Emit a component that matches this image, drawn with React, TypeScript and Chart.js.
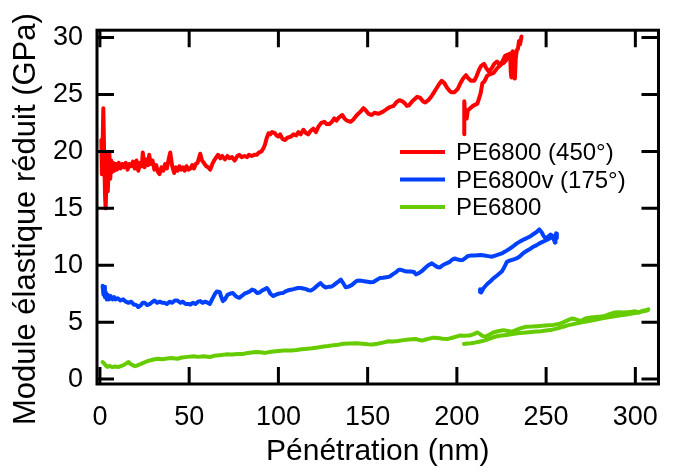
import { useEffect, useRef } from 'react';
import { Chart, registerables } from 'chart.js';

Chart.register(...registerables);

const xTickValues = [0, 50, 100, 150, 200, 250, 300];
const yTickValues = [0, 5, 10, 15, 20, 25, 30];
const xTitle = 'Pénétration (nm)';
const yTitle = 'Module élastique réduit (GPa)';
const seriesNames = ['PE6800 (450°)', 'PE6800v (175°)', 'PE6800'];
const seriesColors = ['#ff0000', '#0040ff', '#66cc00'];

const redMain: [number, number][] = [
  [0.8, 21.0], [1.1, 18.0], [1.5, 20.5], [1.9, 23.8], [2.4, 19.5], [2.9, 16.0], [3.2, 15.0], [3.6, 17.0],
  [4.0, 19.8], [4.4, 16.5], [4.9, 18.5], [5.3, 19.8], [5.8, 17.6], [6.3, 19.2], [6.8, 18.2], [7.4, 19.0],
  [8.0, 18.3], [8.8, 18.9], [9.5, 18.4], [10.5, 19.0], [11.5, 18.5], [12.5, 18.9], [13.5, 18.6], [14.5, 19.0],
  [15.5, 18.4], [16.5, 18.9], [17.5, 18.7], [18.5, 19.1], [19.5, 18.5], [20.5, 19.2], [21.5, 18.3], [22.5, 19.0],
  [23.5, 18.7], [24, 19.9], [25, 18.6], [26, 19.3], [27, 18.8], [27.6, 19.7], [28.5, 18.9], [29.5, 19.2],
  [30.5, 18.4], [31.5, 18.8], [32.5, 18.2], [33.4, 18.0], [34.5, 18.6], [35.5, 18.3], [36.5, 18.9], [37.5, 18.5],
  [38.5, 19.3], [39.4, 19.9], [40.5, 18.7], [41.6, 18.1], [42.5, 18.6], [43.5, 18.3], [44.5, 18.7], [45.5, 18.4],
  [46.5, 18.6], [47.5, 18.3], [48.5, 18.7], [49.5, 18.4], [50.7, 18.5], [51.7, 18.8], [52.7, 18.5], [53.7, 18.9],
  [54.7, 19.0], [56.2, 19.8], [57.2, 19.2], [58.2, 19.0], [59.5, 18.7], [60.7, 18.6], [61.8, 18.4], [63, 18.9],
  [64, 19.2], [65.2, 19.5], [66.2, 19.7], [67.5, 19.4], [68.5, 19.6], [70, 19.3], [71.5, 19.6], [72.6, 19.4],
  [74, 19.5], [75.5, 19.2], [77, 19.6], [78, 19.7], [79.5, 19.5], [81, 19.6], [82.5, 19.5], [83.5, 19.7],
  [85, 19.6], [86.5, 19.7], [88, 19.7], [89, 19.9], [90.5, 20.0], [91.7, 20.3], [92.5, 20.6], [93.5, 21.2],
  [94.5, 21.6], [95.5, 21.5], [96.5, 21.7], [98, 21.6], [99, 21.4], [100, 21.3], [101, 21.5], [102.3, 21.1],
  [103.6, 21.0], [105, 21.2], [107, 21.3], [108.5, 21.5], [110, 21.4], [111.2, 21.7], [112.5, 21.5], [114, 21.9],
  [115.5, 21.6], [116.7, 21.5], [118, 21.8], [119.5, 22.0], [121, 21.7], [122.5, 22.2], [124, 22.5], [125.8, 22.6],
  [127, 22.4], [128.5, 22.4], [130, 22.6], [131.3, 22.9], [132.5, 22.7], [134, 23.0], [135.8, 23.2], [137, 22.9],
  [138.5, 22.7], [140.4, 22.6], [142, 22.8], [144, 23.2], [146, 23.5], [147.7, 23.8], [149, 23.6], [150.5, 23.3],
  [152.3, 23.2], [154, 23.4], [156, 23.3], [158.6, 23.5], [160.5, 23.7], [162.5, 23.9], [164.5, 24.0], [166, 24.3],
  [167.8, 24.5], [169.5, 24.4], [171, 24.2], [172, 24.0], [173.2, 24.05], [175, 24.4], [177.8, 24.8], [179.5, 24.7],
  [181, 24.4], [182.3, 24.3], [184, 24.5], [186, 24.9], [188, 25.4], [190, 25.9], [191.5, 26.2], [193, 26.0],
  [194.5, 25.6], [196, 25.3], [197, 25.2], [198.7, 25.2], [200.5, 25.5], [202, 26.0], [203.5, 26.4], [205.1, 26.7],
  [206.5, 26.4], [208, 26.2], [209.7, 26.2], [211, 26.6], [212.5, 27.2], [213.5, 27.5], [215.2, 27.7], [216.5, 27.3],
  [218, 27.0], [219.5, 27.3], [221, 27.7], [222.5, 27.9], [224, 27.6], [225.5, 27.9], [227, 28.4], [228.5, 28.5],
  [229.8, 28.6], [230.2, 27.0], [230.5, 26.5], [230.8, 28.0], [231.3, 28.8], [232, 27.5], [232.5, 26.4], [233, 28.2],
  [233.6, 28.9], [234.2, 29.0], [234.8, 29.7], [235.4, 29.4], [236.2, 30.1],
];

const redTail: [number, number][] = [
  [204.2, 21.5], [204.0, 22.8], [204.3, 24.4], [204.7, 23.0], [205.5, 22.9], [206.1, 23.6], [207.5, 23.8],
  [209, 24.0], [211.5, 24.2], [213.3, 25.1], [214.3, 26.0], [215.2, 26.1], [217, 26.65], [218.8, 26.8],
  [220.6, 26.9], [222.5, 27.3], [225.2, 27.7], [226.5, 27.8], [228, 28.1], [229.5, 28.3], [230.6, 28.4],
];

const blueMain: [number, number][] = [
  [1.5, 8.2], [2.0, 7.4], [2.4, 8.1], [2.8, 7.2], [3.3, 7.6], [3.8, 7.0], [4.5, 7.4], [5.1, 7.0], [6, 7.3],
  [7, 7.0], [8, 7.2], [8.75, 7.0], [10, 7.1], [11.5, 6.9], [13, 7.0], [14.5, 6.8], [16, 6.7], [17.5, 6.8],
  [19, 6.55], [20.5, 6.5], [21.5, 6.33], [23, 6.5], [24, 6.7], [25.2, 6.7], [26.5, 6.5], [28, 6.6], [29.5, 6.8],
  [30.6, 6.9], [32, 6.7], [33.5, 6.8], [35, 6.7], [36.1, 6.7], [37.5, 6.6], [39, 6.8], [40.5, 6.7], [42, 6.9],
  [43.4, 6.9], [45, 6.7], [46.5, 6.8], [48, 6.6], [49.5, 6.6], [50.7, 6.55], [52, 6.7], [53.5, 6.6], [55, 6.8],
  [56.2, 6.85], [57.5, 6.7], [59, 6.8], [60.5, 6.7], [61.6, 6.6], [62.5, 6.9], [63.5, 7.2], [64.5, 7.5],
  [65.5, 7.7], [67.1, 7.66], [68, 7.2], [68.9, 6.85], [70, 7.0], [71.5, 7.4], [73, 7.5], [74.4, 7.57], [76, 7.3],
  [77, 7.2], [78.1, 7.14], [79.5, 7.3], [81, 7.5], [82.5, 7.6], [84, 7.7], [85.3, 7.86], [86.5, 7.8],
  [88.1, 7.57], [89.5, 7.6], [91, 7.8], [92.5, 7.9], [93.5, 8.0], [94.5, 7.8], [95.5, 7.5], [97.2, 7.29],
  [98.5, 7.4], [100, 7.5], [101.5, 7.55], [102.7, 7.57], [104, 7.7], [105.5, 7.8], [107, 7.85], [108.5, 7.9],
  [110.9, 8.0], [112.5, 8.0], [114, 7.95], [115.5, 7.9], [117, 7.8], [118.2, 7.78], [119.5, 7.9], [121, 8.1],
  [122.5, 8.3], [123.6, 8.44], [125, 8.2], [126.5, 8.05], [128, 8.1], [129.4, 8.1], [131, 8.25], [133, 8.5],
  [135, 8.73], [136, 8.5], [137.7, 8.07], [139, 8.1], [141, 8.25], [142.5, 8.45], [144, 8.64], [146, 8.65],
  [148, 8.6], [150, 8.55], [151.5, 8.5], [153.2, 8.53], [155, 8.7], [156.8, 8.87], [158.5, 8.9], [160.5, 8.95],
  [162.3, 9.0], [164, 9.2], [166, 9.4], [167.5, 9.6], [168.7, 9.6], [170.5, 9.5], [172, 9.45], [174.1, 9.45],
  [176, 9.4], [177, 9.2], [178.7, 9.3], [180.5, 9.5], [182.5, 9.8], [184, 10.0], [186, 10.17], [187.5, 10.0],
  [189, 9.85], [190.5, 9.8], [192, 10.0], [194.2, 10.17], [196, 10.3], [197.5, 10.5], [198.7, 10.6], [200.5, 10.5],
  [202, 10.45], [203.3, 10.47], [204.5, 10.6], [206, 10.8], [208, 10.85], [210, 10.85], [213.3, 10.9],
  [215.5, 10.85], [217.5, 10.8], [219.7, 10.75], [221.5, 10.85], [223.5, 10.95], [225.2, 11.04], [227, 11.2],
  [229, 11.4], [231, 11.6], [233.4, 11.9], [235.5, 12.1], [238, 12.3], [240.7, 12.5], [242.5, 12.7], [244.5, 12.9],
  [246.2, 13.15], [247.5, 12.9], [248.5, 12.6], [249.8, 12.35], [251, 12.5], [252.5, 12.7], [253.4, 12.6],
  [254.5, 12.2], [255, 12.0],
];

const blueTail: [number, number][] = [
  [213.3, 7.66], [213.0, 7.9], [213.6, 7.6], [215, 8.0], [217, 8.35], [218.8, 8.6], [220.6, 8.87], [222.5, 9.1],
  [224, 9.3], [225.2, 9.45], [226.5, 9.8], [228, 10.3], [229.5, 10.4], [231.5, 10.5], [233.4, 10.6], [235, 10.75],
  [237, 11.04], [239, 11.25], [240.7, 11.4], [242.5, 11.6], [244.5, 11.75], [246, 11.9], [248, 12.05], [250, 12.2],
  [252, 12.35], [253.4, 12.5], [254.5, 12.3], [255.2, 12.0], [255.6, 12.8], [256, 12.4],
];

const greenMain: [number, number][] = [
  [1.5, 1.5], [2.5, 1.35], [3.5, 1.15], [4.2, 1.07], [5.5, 1.15], [7, 1.05], [8.5, 1.1], [10.6, 1.07], [12, 1.15],
  [13.5, 1.25], [15, 1.4], [16, 1.5], [17, 1.35], [18.5, 1.2], [19.7, 1.13], [21, 1.2], [22.5, 1.3], [24, 1.4],
  [25.5, 1.5], [27, 1.6], [28.5, 1.65], [30, 1.72], [32.5, 1.79], [35, 1.75], [37.5, 1.8], [40, 1.85], [43.4, 1.79],
  [46, 1.9], [49, 1.95], [52.5, 2.0], [55, 1.95], [58, 2.0], [61.6, 1.93], [64, 2.05], [67, 2.1], [70.7, 2.17],
  [74, 2.15], [77, 2.2], [79.9, 2.2], [83, 2.3], [87.1, 2.37], [90, 2.35], [92.6, 2.3], [96, 2.4], [99.9, 2.46],
  [103, 2.5], [107.2, 2.51], [110, 2.55], [113, 2.62], [116.3, 2.66], [119, 2.7], [122, 2.78], [125.4, 2.86],
  [128, 2.9], [131, 2.98], [133.5, 3.02], [136.4, 3.1], [140, 3.12], [143.7, 3.15], [147, 3.1], [150, 3.05],
  [152.8, 3.04], [155.5, 3.1], [158.5, 3.2], [161.9, 3.32], [164.1, 3.3], [167, 3.35], [170, 3.42], [173, 3.48],
  [176.9, 3.53], [178.5, 3.45], [180.5, 3.38], [183, 3.5], [186.9, 3.64], [189.5, 3.6], [192, 3.55], [195.1, 3.53],
  [198, 3.65], [201.5, 3.82], [204, 3.8], [207, 3.82], [209.5, 3.95], [211.5, 4.1], [213, 3.95], [214.5, 3.78],
  [216.1, 3.73], [218, 3.9], [220.6, 4.1], [223, 4.2], [226.1, 4.3], [228.5, 4.22], [230.7, 4.15], [233, 4.3],
  [235.5, 4.45], [238.9, 4.6], [242, 4.62], [245, 4.65], [248, 4.68], [251, 4.72], [254, 4.76], [257.1, 4.83],
  [259.5, 4.98], [262, 5.15], [264.4, 5.32], [266.5, 5.25], [268.5, 5.15], [269.9, 5.12], [271.5, 5.28],
  [272.6, 5.35], [275, 5.4], [278, 5.45], [280.8, 5.49], [283, 5.55], [285.5, 5.7], [288.1, 5.84], [291, 5.87],
  [294, 5.85], [297.2, 5.9], [300, 5.95], [302, 5.85], [304, 6.0], [306, 6.05], [307.3, 6.13],
];

const greenTail: [number, number][] = [
  [203.9, 3.09], [206, 3.12], [208, 3.15], [210, 3.2], [212.5, 3.28], [215.2, 3.38], [217.5, 3.5], [220, 3.65],
  [222.5, 3.76], [225, 3.82], [228, 3.88], [231, 3.95], [235.2, 4.05], [239, 4.1], [243, 4.15], [247, 4.2],
  [250, 4.27], [253.4, 4.34], [256.5, 4.45], [259.5, 4.6], [262.6, 4.74], [266, 4.85], [270, 4.98], [274, 5.1],
  [277.5, 5.2], [280.8, 5.32], [284, 5.4], [287.5, 5.5], [291, 5.58], [295, 5.68], [299, 5.78], [303, 5.9],
  [307, 6.05],
];

const FONT = "'Liberation Sans', Arial, Helvetica, sans-serif";

export default function App() {
  const ref = useRef<HTMLCanvasElement>(null);

  useEffect(() => {
    document.body.style.margin = '0';
    const canvas = ref.current;
    if (!canvas) return;
    const toXY = (arr: [number, number][]) => arr.map(([x, y]) => ({ x, y }));
    const groups = [
      [redMain, redTail],
      [blueMain, blueTail],
      [greenMain, greenTail],
    ];
    const datasets: any[] = [];
    groups.forEach((g, i) => {
      g.forEach((arr, j) => {
        datasets.push({
          label: j === 0 ? seriesNames[i] : seriesNames[i] + ' (b)',
          data: toXY(arr),
          borderColor: seriesColors[i],
          backgroundColor: seriesColors[i],
          borderWidth: 4,
          pointRadius: 0,
          tension: 0,
          fill: false,
          borderJoinStyle: 'round',
          borderCapStyle: 'round',
        });
      });
    });

    const framePlugin = {
      id: 'frameTicksLegend',
      afterDraw(chart: any) {
        const { ctx, chartArea: a, scales } = chart;
        const xs = scales.x;
        const ys = scales.y;
        ctx.save();
        ctx.strokeStyle = '#000';
        ctx.lineWidth = 3;
        ctx.strokeRect(a.left, a.top, a.right - a.left, a.bottom - a.top);
        const L = 17;
        ctx.beginPath();
        for (const v of xTickValues) {
          const px = xs.getPixelForValue(v);
          ctx.moveTo(px, a.bottom);
          ctx.lineTo(px, a.bottom - L);
          ctx.moveTo(px, a.top);
          ctx.lineTo(px, a.top + L);
        }
        for (const v of yTickValues) {
          const py = ys.getPixelForValue(v);
          ctx.moveTo(a.left, py);
          ctx.lineTo(a.left + L, py);
          ctx.moveTo(a.right, py);
          ctx.lineTo(a.right - L, py);
        }
        ctx.stroke();

        // y-axis title
        ctx.save();
        ctx.translate(a.left - 62, (a.top + a.bottom) / 2 + 12);
        ctx.rotate(-Math.PI / 2);
        ctx.font = `31px ${FONT}`;
        ctx.fillStyle = '#000';
        ctx.textAlign = 'center';
        ctx.textBaseline = 'alphabetic';
        ctx.fillText(yTitle, 0, 0);
        ctx.restore();

        // legend
        const lx0 = a.left + 303;
        const lx1 = lx0 + 45;
        const ly0 = a.top + 121.7;
        const dy = 27.5;
        ctx.font = `24px ${FONT}`;
        ctx.textAlign = 'left';
        ctx.textBaseline = 'alphabetic';
        seriesNames.forEach((name, i) => {
          const y = ly0 + i * dy;
          ctx.strokeStyle = seriesColors[i];
          ctx.lineWidth = 4;
          ctx.beginPath();
          ctx.moveTo(lx0, y);
          ctx.lineTo(lx1, y);
          ctx.stroke();
          ctx.fillStyle = '#000';
          ctx.fillText(name, lx1 + 11, y + 8.5);
        });
        ctx.restore();
      },
    };

    const chart = new Chart(canvas, {
      type: 'line',
      data: { datasets },
      options: {
        animation: false,
        responsive: false,
        maintainAspectRatio: false,
        devicePixelRatio: 1,
        layout: { padding: { top: 25, right: 3, left: 0, bottom: 0 } },
        plugins: {
          legend: { display: false },
          tooltip: { enabled: false },
        },
        scales: {
          x: {
            type: 'linear',
            min: -1.64,
            max: 312.96,
            grid: { display: false, drawTicks: false },
            border: { display: false },
            afterBuildTicks: (s: any) => {
              s.ticks = xTickValues.map((v) => ({ value: v }));
            },
            afterFit: (s: any) => {
              s.height = 89;
            },
            ticks: {
              color: '#000',
              padding: 17,
              maxRotation: 0,
              autoSkip: false,
              font: { family: FONT, size: 27 },
            },
            title: {
              display: true,
              text: xTitle,
              color: '#000',
              font: { family: FONT, size: 30 },
              padding: { top: 0, bottom: 3 },
            },
          },
          y: {
            type: 'linear',
            min: -0.433,
            max: 30.65,
            grid: { display: false, drawTicks: false },
            border: { display: false },
            afterBuildTicks: (s: any) => {
              s.ticks = yTickValues.map((v) => ({ value: v }));
            },
            afterFit: (s: any) => {
              s.width = 97;
            },
            ticks: {
              color: '#000',
              padding: 14,
              autoSkip: false,
              font: { family: FONT, size: 27 },
            },
          },
        },
      },
      plugins: [framePlugin],
    });
    return () => chart.destroy();
  }, []);

  return (
    <div style={{ width: 675, height: 473, background: '#fff' }}>
      <canvas ref={ref} width={675} height={473} style={{ display: 'block' }} />
    </div>
  );
}
